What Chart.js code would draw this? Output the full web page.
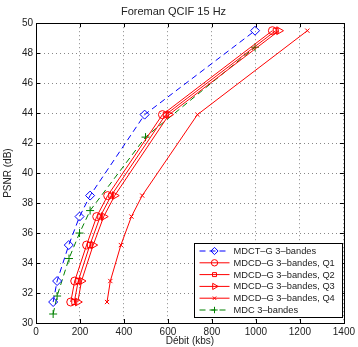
<!DOCTYPE html>
<html>
<head>
<meta charset="utf-8">
<script src="https://cdn.jsdelivr.net/npm/chart.js@4"></script>
<style>
html,body{margin:0;padding:0;background:#fff;}
</style>
</head>
<body>
<canvas id="rdChart" width="358" height="347"></canvas>
<script>
// débit (kbs) and PSNR (dB)
const psnr=[31.4,32.8,35.2,37.1,38.5,43.9,49.5];
const rateMdct=[78,96,149,198,246,494,996];
const rateQ1=[158,176,230,276,326,575,1075];
const rateQ2=[174,192,245,292,342,590,1090];
const rateQ3=[190,207,260,308,358,605,1105];
const rateQ4=[323,338,386,434,483,734,1234];
const rateMdc=[78,96,150,198,246,498,996];
const psnrMdc=[30.6,31.8,34.3,36.0,37.5,42.4,48.4];
const xTicks=[0,200,400,600,800,1000,1200,1400];
const yTicks=[30,32,34,36,38,40,42,44,46,48,50];
const seriesNames=["MDCT\u2013G 3\u2013bandes","MDCD\u2013G 3\u2013bandes, Q1","MDCD\u2013G 3\u2013bandes, Q2","MDCD\u2013G 3\u2013bandes, Q3","MDCD\u2013G 3\u2013bandes, Q4","MDC 3\u2013bandes"];

const pts=(xs,ys)=>xs.map((x,i)=>({x:x,y:ys[i]}));
const FONT="'Liberation Sans', Arial, sans-serif";
const RED="#ff0000", BLUE="#0000ff", GREEN="#008000";

function serie(label,data,color,style,radius,dash,rot){
  return {
    label:label,data:data,showLine:true,
    borderColor:color,backgroundColor:"rgba(0,0,0,0)",
    borderWidth:1,borderDash:dash,
    pointStyle:style,pointRadius:radius,pointRotation:rot||0,
    pointBorderColor:color,pointBackgroundColor:"rgba(0,0,0,0)",pointBorderWidth:1
  };
}

// box, inward ticks and legend like the matlab figure
const matlabFrame={
  id:"matlabFrame",
  afterDatasetsDraw(chart){
    const c=chart.ctx, a=chart.chartArea, xs=chart.scales.x, ys=chart.scales.y;
    c.save();
    c.strokeStyle="#000";c.lineWidth=1;c.setLineDash([]);
    c.beginPath();
    xTicks.forEach(t=>{
      const px=Math.round(xs.getPixelForValue(t))+0.5;
      c.moveTo(px,a.bottom);c.lineTo(px,a.bottom-4);
      c.moveTo(px,a.top);c.lineTo(px,a.top+4);
    });
    yTicks.forEach(t=>{
      const py=Math.round(ys.getPixelForValue(t))+0.5;
      c.moveTo(a.left,py);c.lineTo(a.left+4,py);
      c.moveTo(a.right,py);c.lineTo(a.right-4,py);
    });
    c.stroke();
    c.strokeRect(Math.round(a.left)+0.5,Math.round(a.top)+0.5,Math.round(a.right-a.left),Math.round(a.bottom-a.top));
    c.restore();
  },
  afterDraw(chart){
    const c=chart.ctx;
    const bx=194.5, by=243.5, bw=148, bh=74, row=11.8;
    c.save();
    c.fillStyle="#fff";c.fillRect(bx,by,bw,bh);
    c.strokeStyle="#000";c.lineWidth=1;c.setLineDash([]);c.strokeRect(bx,by,bw,bh);
    c.font="9.3px "+FONT;c.textBaseline="middle";c.textAlign="left";
    chart.data.datasets.forEach((ds,i)=>{
      const y=by+7.5+i*row;
      c.strokeStyle=ds.borderColor;c.lineWidth=1;c.setLineDash(ds.borderDash||[]);
      c.beginPath();c.moveTo(bx+5,y);c.lineTo(bx+35,y);c.stroke();
      c.setLineDash([]);
      c.strokeStyle=ds.borderColor;c.fillStyle="rgba(0,0,0,0)";
      Chart.helpers.drawPoint(c,{pointStyle:ds.pointStyle,radius:ds.pointRadius*0.8,rotation:ds.pointRotation,borderWidth:1},bx+20,y);
      c.fillStyle="#222";
      c.fillText(ds.label,bx+39,y+0.5);
    });
    c.restore();
  }
};

const ctx=document.getElementById("rdChart");
let rdChart=new Chart(ctx,{
  type:"scatter",
  data:{
    datasets:[
      serie(seriesNames[0],pts(rateMdct,psnr),BLUE,"rectRot",4.5,[6,4]),
      serie(seriesNames[1],pts(rateQ1,psnr),RED,"circle",4,[]),
      serie(seriesNames[2],pts(rateQ2,psnr),RED,"rect",3.5,[]),
      serie(seriesNames[3],pts(rateQ3,psnr),RED,"triangle",4.5,[],90),
      serie(seriesNames[4],pts(rateQ4,psnr),RED,"crossRot",3,[]),
      serie(seriesNames[5],pts(rateMdc,psnrMdc),GREEN,"cross",4,[6,4])
    ]
  },
  plugins:[matlabFrame],
  options:{
    responsive:false,
    animation:false,
    layout:{padding:{top:0,right:11,bottom:0,left:0}},
    plugins:{
      legend:{display:false},
      tooltip:{enabled:false},
      title:{display:true,text:"Foreman QCIF 15 Hz",color:"#222",
        font:{family:FONT,size:11,weight:"normal"},padding:{top:5,bottom:5}}
    },
    scales:{
      x:{
        type:"linear",min:0,max:1400,
        afterBuildTicks:s=>{s.ticks=xTicks.map(v=>({value:v}));},
        afterFit:s=>{s.height=24;},
        grid:{color:"#888",drawTicks:false,lineWidth:1},
        border:{display:false,dash:[1,3]},
        ticks:{color:"#222",font:{family:FONT,size:10},padding:3,maxRotation:0,
          callback:v=>String(v)},
        title:{display:true,text:"D\u00e9bit (kbs)",color:"#222",
          font:{family:FONT,size:10},padding:{top:0,bottom:0}}
      },
      y:{
        type:"linear",min:30,max:50,
        afterBuildTicks:s=>{s.ticks=yTicks.map(v=>({value:v}));},
        afterFit:s=>{s.width=36;},
        grid:{color:"#888",drawTicks:false,lineWidth:1},
        border:{display:false,dash:[1,3]},
        ticks:{color:"#222",font:{family:FONT,size:10},padding:3,
          callback:v=>String(v)},
        title:{display:true,text:"PSNR (dB)",color:"#222",
          font:{family:FONT,size:10},padding:{top:2,bottom:0}}
      }
    }
  }
});
</script>
</body>
</html>
